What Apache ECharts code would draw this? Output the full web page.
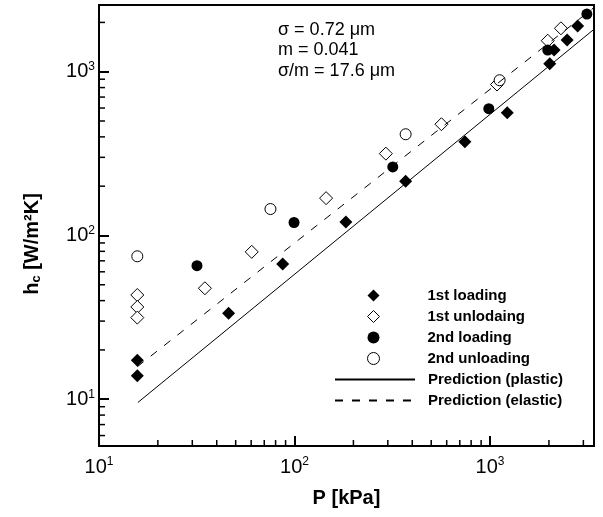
<!DOCTYPE html>
<html><head><meta charset="utf-8">
<script src="https://cdn.jsdelivr.net/npm/echarts@6/dist/echarts.min.js"></script>
<style>html,body{margin:0;padding:0;background:#fff}#c{width:603px;height:517px}</style>
</head><body><div id="c"></div>
<script>
const FONT = '"Liberation Sans", Arial, Helvetica, sans-serif';
// data: [P (kPa), h_c (W/m2K)]
const firstLoading = [[15.7,17.3],[15.7,13.9],[46,33.5],[87,67],[183,121],[370,214],[743,374],[1224,562],[2019,1117],[2124,1355],[2478,1560],[2804,1900]];
const firstUnloading = [[15.7,43.3],[15.7,36.6],[15.7,31.5],[34.8,47.6],[60.4,79.4],[145,169],[293,316],[564,478],[1085,835],[1972,1546],[2303,1841]];
const secondLoading = [[31.7,65.4],[99.4,120],[318,262],[985,595],[1972,1355],[3126,2250]];
const secondUnloading = [[15.7,74.6],[75.3,145],[370,415],[1119,887]];
const predPlastic = [[15.8,9.55],[3400,1816]];
const predElastic = [[15.7,15.8],[3400,2466]];
// axis
const X_MIN = 10, X_MAX = 3400, Y_MIN = 5.18, Y_MAX = 2555;
const xMinorTicks = [20,30,40,50,60,70,80,90,200,300,400,500,600,700,800,900,2000,3000];
const yMinorTicks = [6,7,8,9,20,30,40,50,60,70,80,90,200,300,400,500,600,700,800,900,2000];
const annotations = ['σ = 0.72 μm', 'm = 0.041', 'σ/m = 17.6 μm'];
const markerNames = ['1st loading','1st unlodaing','2nd loading','2nd unloading'];
const lineNames = ['Prediction (plastic)','Prediction (elastic)'];

function isPow10(v){ const l = Math.log10(v); return Math.abs(l - Math.round(l)) < 1e-6; }
function fmt(v){ return isPow10(v) ? '{b|10}{e|' + Math.round(Math.log10(v)) + '}' : ''; }
const labelRich = {
  b:{fontSize:20, fontFamily:FONT, color:'#000'},
  e:{fontSize:12, fontFamily:FONT, color:'#000', padding:[0,0,10,0]}
};
const legendText = {fontSize:15, fontWeight:'bold', fontFamily:FONT, color:'#000'};

const chart = echarts.init(document.getElementById('c'), null, {renderer:'canvas'});
chart.setOption({
  animation:false,
  backgroundColor:'#fff',
  grid:{left:99, right:9, top:5, bottom:71, show:true, borderColor:'#000', borderWidth:2, backgroundColor:'transparent'},
  xAxis:{
    type:'log', logBase:10, min:X_MIN, max:X_MAX,
    name:'P [kPa]', nameLocation:'middle', nameGap:42,
    nameTextStyle:{fontSize:20, fontWeight:'bold', fontFamily:FONT, color:'#000'},
    axisLine:{lineStyle:{color:'#000', width:2}},
    axisTick:{show:true, inside:true, length:10, lineStyle:{color:'#000', width:2}},
    splitLine:{show:false},
    axisLabel:{formatter:fmt, rich:labelRich, margin:10, color:'#000'}
  },
  yAxis:{
    type:'log', logBase:10, min:Y_MIN, max:Y_MAX,
    axisLine:{lineStyle:{color:'#000', width:2}},
    axisTick:{show:true, inside:true, length:10, lineStyle:{color:'#000', width:2}},
    splitLine:{show:false},
    axisLabel:{formatter:fmt, rich:labelRich, margin:4, color:'#000'}
  },
  legend:[
    {orient:'vertical', left:362, top:283, itemWidth:12, itemHeight:12, itemGap:6, padding:5,
      selectedMode:false, data:markerNames, itemStyle:{borderWidth:1},
      textStyle:Object.assign({padding:[0,0,0,43]}, legendText)},
    {orient:'vertical', left:329, top:367, itemWidth:80, itemHeight:12, itemGap:6, padding:5,
      selectedMode:false,
      data:lineNames.map(n => ({name:n, itemStyle:{opacity:0}})),
      textStyle:Object.assign({padding:[0,0,0,8]}, legendText)}
  ],
  graphic:[
    {type:'text', x:32, y:244, rotation:Math.PI/2, silent:true,
      style:{text:'{h|h}{c|c}{h| [W/m²K]}', align:'center', verticalAlign:'middle',
        rich:{h:{fontSize:20, fontWeight:'bold', fontFamily:FONT, fill:'#000', color:'#000'},
              c:{fontSize:13, fontWeight:'bold', fontFamily:FONT, fill:'#000', color:'#000', padding:[8,0,0,0]}}}},
    {type:'text', left:278, top:21, silent:true, style:{text:annotations[0], font:'18px ' + FONT, fill:'#000'}},
    {type:'text', left:278, top:41, silent:true, style:{text:annotations[1], font:'18px ' + FONT, fill:'#000'}},
    {type:'text', left:278, top:62, silent:true, style:{text:annotations[2], font:'18px ' + FONT, fill:'#000'}}
  ],
  series:[
    {name:lineNames[0], type:'line', data:predPlastic, symbol:'none', silent:true,
      lineStyle:{color:'#000', width:1}, itemStyle:{color:'#000'}},
    {name:lineNames[1], type:'line', data:predElastic, symbol:'none', silent:true,
      lineStyle:{color:'#000', width:1, type:[8,9]}, itemStyle:{color:'#000'}},
    {name:markerNames[0], type:'scatter', data:firstLoading, symbol:'diamond', symbolSize:13, silent:true,
      itemStyle:{color:'#000', opacity:1}},
    {name:markerNames[1], type:'scatter', data:firstUnloading, symbol:'diamond', symbolSize:13, silent:true,
      itemStyle:{color:'#fff', borderColor:'#000', borderWidth:1, opacity:1}},
    {name:markerNames[2], type:'scatter', data:secondLoading, symbol:'circle', symbolSize:11, silent:true,
      itemStyle:{color:'#000', opacity:1}},
    {name:markerNames[3], type:'scatter', data:secondUnloading, symbol:'circle', symbolSize:11, silent:true,
      itemStyle:{color:'#fff', borderColor:'#000', borderWidth:1, opacity:1}},
    {name:'xminor', type:'scatter', silent:true, clip:false, z:10, data:xMinorTicks.map(v => [v, Y_MIN]),
      symbol:'rect', symbolSize:[1.5,6], symbolOffset:[0,-3], itemStyle:{color:'#000', opacity:1}},
    {name:'yminor', type:'scatter', silent:true, clip:false, z:10, data:yMinorTicks.map(v => [X_MIN, v]),
      symbol:'rect', symbolSize:[6,1.5], symbolOffset:[3,0], itemStyle:{color:'#000', opacity:1}}
  ]
});
</script></body></html>
